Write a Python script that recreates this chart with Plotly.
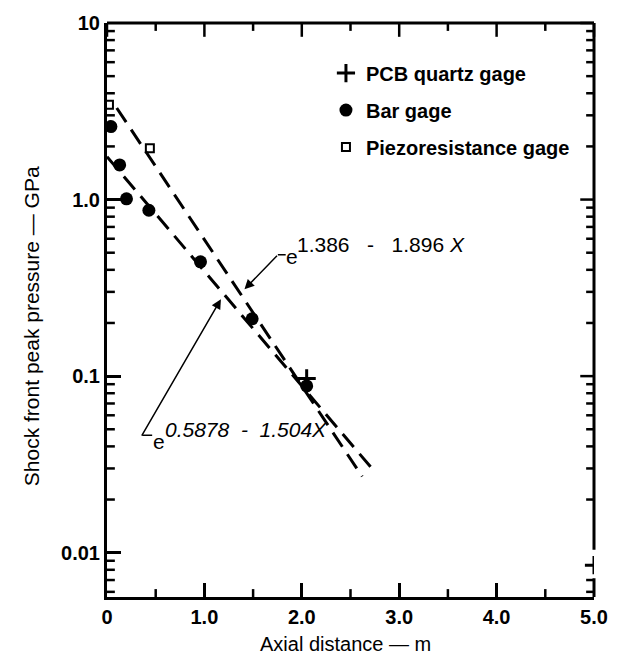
import math
import plotly.graph_objects as go

# ---- data ----
pcb_x = [2.05, 5.0]
pcb_y = [0.097, 0.0085]

bar_x = [0.04, 0.13, 0.20, 0.43, 0.96, 1.49, 2.05]
bar_y = [2.59, 1.57, 1.01, 0.87, 0.444, 0.211, 0.088]

piezo_x = [0.02, 0.44]
piezo_y = [3.44, 1.95]

fit1_x = [0.10, 2.62]      # e^(1.386 - 1.896X)
fit1_y = [3.30, 0.027]
fit2_x = [0.0, 2.72]       # e^(0.5878 - 1.504X)
fit2_y = [1.75, 0.030]

x_ticks = [0, 1, 2, 3, 4, 5]
x_ticktext = ["0", "1.0", "2.0", "3.0", "4.0", "5.0"]
x_minor = [0.5, 1.5, 2.5, 3.5, 4.5]
y_ticks = [0.01, 0.1, 1, 10]
y_ticktext = ["0.01", "0.1", "1.0", "10"]
y_minor = [m * d for d in (0.001, 0.01, 0.1, 1) for m in range(2, 10)]

FONT = "Liberation Sans"
BLK = "#000000"

fig = go.Figure()

dash = "17px,9px"
fig.add_trace(go.Scatter(x=fit1_x, y=fit1_y, mode="lines", showlegend=False,
                         line=dict(color=BLK, width=3, dash=dash)))
fig.add_trace(go.Scatter(x=fit2_x, y=fit2_y, mode="lines", showlegend=False,
                         line=dict(color=BLK, width=3, dash=dash)))

fig.add_trace(go.Scatter(x=pcb_x, y=pcb_y, mode="markers", name="<b>PCB quartz gage</b>",
                         legendgroup="g1",
                         marker=dict(symbol="cross-thin", size=13, color=BLK,
                                     line=dict(color=BLK, width=3))))
fig.add_trace(go.Scatter(x=bar_x, y=bar_y, mode="markers", name="<b>Bar gage</b>",
                         legendgroup="g2",
                         marker=dict(symbol="circle", size=13, color=BLK)))
fig.add_trace(go.Scatter(x=piezo_x, y=piezo_y, mode="markers",
                         name="<b>Piezoresistance gage</b>", legendgroup="g3",
                         marker=dict(symbol="square-open", size=8, color=BLK,
                                     line=dict(color=BLK, width=2))))

L, R, T, B = 107, 603, 15, 597
W, H = 620, 663
pw, ph = R - L, B - T

def px(x):
    return (x - L) / pw

def py(y):
    return (B - y) / ph

xr = [0, 5]
yr = [-2.251, 1.0]
MAJ, MIN, TW = 14, 8, 3

fig.update_layout(
    width=W, height=H,
    margin=dict(l=L, r=W - R, t=T, b=H - B),
    paper_bgcolor="white", plot_bgcolor="white",
    legend=dict(x=px(330), y=py(46), xanchor="left", yanchor="top",
                bgcolor="rgba(0,0,0,0)", borderwidth=0, itemwidth=30,
                traceorder="grouped", tracegroupgap=8,
                font=dict(family=FONT, size=20, color=BLK)),
    xaxis=dict(range=xr, tickmode="array", tickvals=x_ticks,
               ticktext=["<b>%s</b>" % t for t in x_ticktext],
               ticks="inside", ticklen=MAJ, tickwidth=TW, tickcolor=BLK,
               showline=True, linewidth=3, linecolor=BLK,
               showgrid=False, zeroline=False,
               tickfont=dict(family=FONT, size=20, color=BLK)),
    yaxis=dict(type="log", range=yr, tickmode="array", tickvals=y_ticks,
               ticktext=["<b>%s</b>" % t for t in y_ticktext],
               ticks="inside", ticklen=MAJ, tickwidth=TW, tickcolor=BLK,
               showline=True, linewidth=3, linecolor=BLK,
               showgrid=False, zeroline=False,
               tickfont=dict(family=FONT, size=20, color=BLK)),
)

# ---- remaining inward tick marks (minor, top and right), from the tick arrays ----
def xfrac(v):
    return (v - xr[0]) / (xr[1] - xr[0])

def yfrac(v):
    return (math.log10(v) - yr[0]) / (yr[1] - yr[0])

tick_line = dict(color=BLK, width=2.5)
for v in x_minor:
    xf = xfrac(v)
    fig.add_shape(type="line", xref="paper", yref="paper", x0=xf, x1=xf,
                  y0=0, y1=MIN / ph, line=tick_line)
for vals, ln in ((x_ticks, MAJ), (x_minor, MIN)):
    for v in vals:
        xf = xfrac(v)
        fig.add_shape(type="line", xref="paper", yref="paper", x0=xf, x1=xf,
                      y0=1, y1=1 - ln / ph, line=tick_line)

gap_lo, gap_hi = py(578), py(549)
for v in y_minor:
    yf = yfrac(v)
    if 0 <= yf <= 1:
        fig.add_shape(type="line", xref="paper", yref="paper", x0=0, x1=MIN / pw,
                      y0=yf, y1=yf, line=tick_line)
for vals, ln in ((y_ticks, MAJ), (y_minor, MIN)):
    for v in vals:
        yf = yfrac(v)
        if yf < 0 or yf > 1 or (gap_lo < yf < gap_hi - 0.005):
            continue
        fig.add_shape(type="line", xref="paper", yref="paper", x0=1, x1=1 - ln / pw,
                      y0=yf, y1=yf, line=tick_line)

# top frame line and right frame line (broken around the lower PCB point)
line_style = dict(color=BLK, width=3)
fig.add_shape(type="line", xref="paper", yref="paper", x0=0, x1=1, y0=1, y1=1, line=line_style)
fig.add_shape(type="line", xref="paper", yref="paper", x0=1, x1=1, y0=1, y1=gap_hi,
              line=line_style)
fig.add_shape(type="line", xref="paper", yref="paper", x0=1, x1=1, y0=gap_lo, y1=0,
              line=line_style)

# axis titles
fig.add_annotation(xref="paper", yref="paper", x=px(350), y=py(645), text="Axial distance — m",
                   showarrow=False, font=dict(family=FONT, size=20, color=BLK),
                   xanchor="center", yanchor="middle")
fig.add_annotation(xref="paper", yref="paper", x=px(30), y=py(322),
                   text="Shock front peak pressure — GPa", textangle=-90,
                   showarrow=False, font=dict(family=FONT, size=21, color=BLK),
                   xanchor="center", yanchor="middle")

# leader lines and arrows for the fit equations
thin = dict(color=BLK, width=1.5)
fig.add_shape(type="line", xref="paper", yref="paper", x0=px(281), x1=px(289),
              y0=py(250), y1=py(250), line=thin)
fig.add_annotation(xref="paper", yref="paper", x=px(247), y=py(285), ax=34, ay=-35,
                   text="", showarrow=True, arrowhead=2, arrowsize=1.3, arrowwidth=1.5,
                   arrowcolor=BLK)
fig.add_shape(type="line", xref="paper", yref="paper", x0=px(143), x1=px(153),
              y0=py(433), y1=py(433), line=thin)
fig.add_annotation(xref="paper", yref="paper", x=px(223), y=py(295), ax=-80, ay=138,
                   text="", showarrow=True, arrowhead=2, arrowsize=1.3, arrowwidth=1.5,
                   arrowcolor=BLK)

eq_font = dict(family=FONT, size=21, color=BLK)
fig.add_annotation(xref="paper", yref="paper", x=px(287), y=py(252), xanchor="left",
                   yanchor="middle", text="e", showarrow=False, font=eq_font)
fig.add_annotation(xref="paper", yref="paper", x=px(298), y=py(240), xanchor="left",
                   yanchor="middle", text="1.386   -   1.896 <i>X</i>", showarrow=False,
                   font=eq_font)
fig.add_annotation(xref="paper", yref="paper", x=px(152), y=py(439), xanchor="left",
                   yanchor="middle", text="e", showarrow=False, font=eq_font)
fig.add_annotation(xref="paper", yref="paper", x=px(164), y=py(427), xanchor="left",
                   yanchor="middle", text="<i>0.5878  -  1.504X</i>", showarrow=False,
                   font=eq_font)

fig.write_html("out.html")
